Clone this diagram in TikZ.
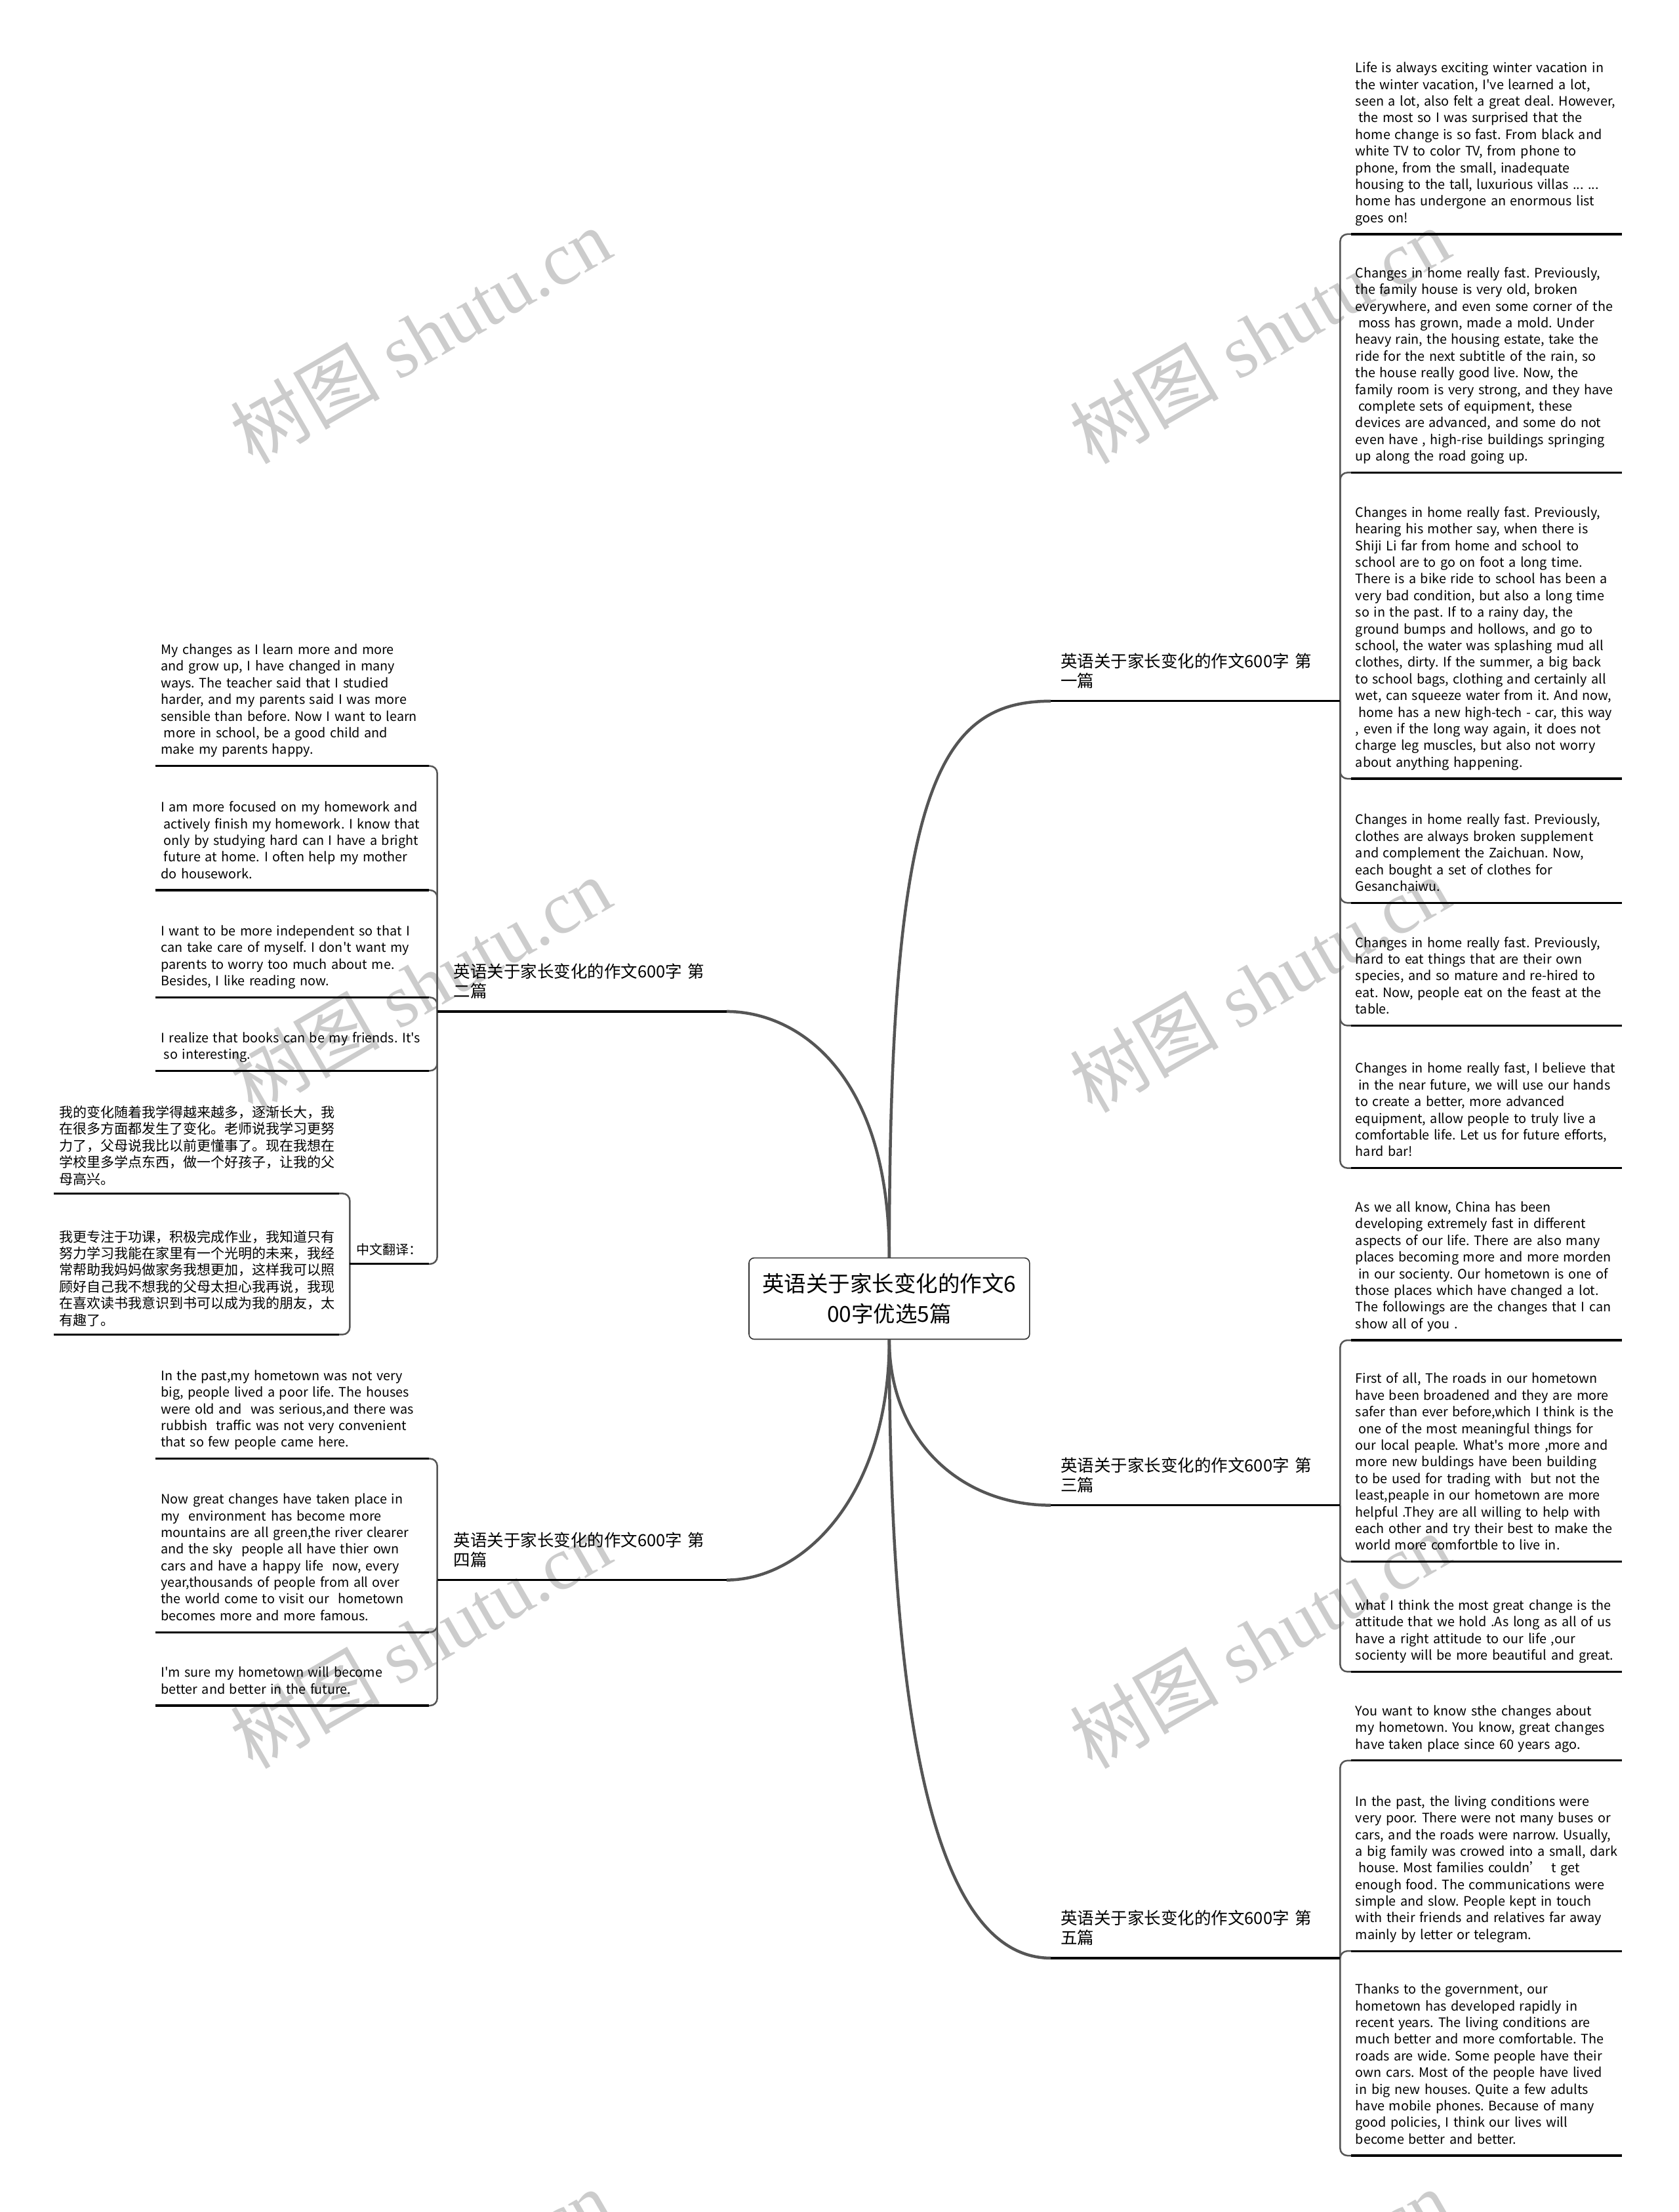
\documentclass[tikz,border=0pt]{standalone}
\usepackage{fontspec}
\setmainfont{Noto Sans CJK SC}[Ligatures=TeXOff]
\newfontfamily\wmfont{Liberation Serif}
\newfontfamily\wmcjk{Noto Sans CJK SC}
\newcommand{\lsp}{\hspace*{.22em}}
\definecolor{twiggray}{HTML}{555555}
\frenchspacing
\hyphenpenalty=10000
\exhyphenpenalty=10000

\begin{document}
\begin{tikzpicture}[x=2.1513pt, y=-2.1513pt,
    hub/.style={draw=black!80, line width=1.6pt, rounded corners=8pt, fill=white,
        minimum width=428pt, minimum height=124pt, align=center,
        font=\fontsize{33.5}{46}\selectfont},
    topic/.style={anchor=south west, inner ysep=12pt, align=left,
        font=\fontsize{25.5}{30}\selectfont, execute at end node=\strut},
    rtopic/.style={topic, inner xsep=15pt, text width=411pt},
    ltopic/.style={topic, inner xsep=25pt, text width=391pt},
    leaf/.style={anchor=south west, inner ysep=10pt, align=left,
        font=\fontsize{19.8}{25.4}\selectfont, execute at end node=\strut},
    rleaf/.style={leaf, inner xsep=6.5pt, text width=400pt},
    lleaf/.style={leaf, inner xsep=8.7pt, text width=400pt},
    zleaf/.style={leaf, inner ysep=6.5pt, inner xsep=8.6pt, text width=417.4pt,
        font=\fontsize{21}{25.4}\selectfont},
    limb/.style={draw=twiggray, line width=4.5pt},
    twig/.style={draw=twiggray, line width=2.5pt, rounded corners=11pt},
    rule/.style={draw=black, line width=3.2pt},
    wmark/.style={text=black!20, rotate=30, font=\wmfont\fontsize{114}{114}\selectfont}]
    % page
    \useasboundingbox (0,0) rectangle (1190,1568);
    % watermarks
    \begin{scope}
        \clip (0,0) rectangle (1190,1568);
        \foreach \x/\y [count=\i] in {298/238, 893/238, 298/698, 893/698, 298/1163, 893/1163, 298/1628, 893/1628}
            \node[wmark] (wm\i) at (\x,\y) {{\wmcjk 树图} shutu.cn};
    \end{scope}
    % center
    \node[hub] (hub) at (630.5,920.5) {英语关于家长变化的作文6\\00字优选5篇};
    % branches
    \node[rtopic] (b1) at (745,497) {英语关于家长变化的作文600字 第\\一篇};
    \node[ltopic] (b2) at (310,717) {英语关于家长变化的作文600字 第\\二篇};
    \node[rtopic] (b3) at (745,1067) {英语关于家长变化的作文600字 第\\三篇};
    \node[ltopic] (b4) at (310,1120) {英语关于家长变化的作文600字 第\\四篇};
    \node[rtopic] (b5) at (745,1388) {英语关于家长变化的作文600字 第\\五篇};
    % leaves of branch 1
    \node[rleaf] (l11) at (958,166) {Life is always exciting winter vacation in\\the winter vacation, I've learned a lot,\\seen a lot, also felt a great deal. However,\\\lsp the most so I was surprised that the\\home change is so fast. From black and\\white TV to color TV, from phone to\\phone, from the small, inadequate\\housing to the tall, luxurious villas ... ...\\home has undergone an enormous list\\goes on!};
    \node[rleaf] (l12) at (958,335) {Changes in home really fast. Previously,\\the family house is very old, broken\\everywhere, and even some corner of the\\\lsp moss has grown, made a mold. Under\\heavy rain, the housing estate, take the\\ride for the next subtitle of the rain, so\\the house really good live. Now, the\\family room is very strong, and they have\\\lsp complete sets of equipment, these\\devices are advanced, and some do not\\even have , high-rise buildings springing\\up along the road going up.};
    \node[rleaf] (l13) at (958,552) {Changes in home really fast. Previously,\\hearing his mother say, when there is\\Shiji Li far from home and school to\\school are to go on foot a long time.\\There is a bike ride to school has been a\\very bad condition, but also a long time\\so in the past. If to a rainy day, the\\ground bumps and hollows, and go to\\school, the water was splashing mud all\\clothes, dirty. If the summer, a big back\\to school bags, clothing and certainly all\\wet, can squeeze water from it. And now,\\\lsp home has a new high-tech - car, this way\\, even if the long way again, it does not\\charge leg muscles, but also not worry\\about anything happening.};
    \node[rleaf] (l14) at (958,640) {Changes in home really fast. Previously,\\clothes are always broken supplement\\and complement the Zaichuan. Now,\\each bought a set of clothes for\\Gesanchaiwu.};
    \node[rleaf] (l15) at (958,727) {Changes in home really fast. Previously,\\hard to eat things that are their own\\species, and so mature and re-hired to\\eat. Now, people eat on the feast at the\\table.};
    \node[rleaf] (l16) at (958,828) {Changes in home really fast, I believe that\\\lsp in the near future, we will use our hands\\to create a better, more advanced\\equipment, allow people to truly live a\\comfortable life. Let us for future efforts,\\hard bar!};
    % leaves of branch 2
    \node[lleaf] (l21) at (110,543) {My changes as I learn more and more\\and grow up, I have changed in many\\ways. The teacher said that I studied\\harder, and my parents said I was more\\sensible than before. Now I want to learn\\\lsp more in school, be a good child and\\make my parents happy.};
    \node[lleaf] (l22) at (110,631) {I am more focused on my homework and\\\lsp actively finish my homework. I know that\\\lsp only by studying hard can I have a bright\\\lsp future at home. I often help my mother\\do housework.};
    \node[lleaf] (l23) at (110,707) {I want to be more independent so that I\\can take care of myself. I don't want my\\parents to worry too much about me.\\Besides, I like reading now.};
    \node[lleaf] (l24) at (110,759) {I realize that books can be my friends. It's\\\lsp so interesting.};
    \node[leaf, inner ysep=6.5pt, inner xsep=10.4pt, text width=99.7pt, font=\fontsize{20}{25.4}\selectfont] (zh) at (248,896) {中文翻译：};
    \node[zleaf] (zh1) at (38,846) {我的变化随着我学得越来越多，逐渐长大，我\\在很多方面都发生了变化。老师说我学习更努\\力了，父母说我比以前更懂事了。现在我想在\\学校里多学点东西，做一个好孩子，让我的父\\母高兴。};
    \node[zleaf] (zh2) at (38,946) {我更专注于功课，积极完成作业，我知道只有\\努力学习我能在家里有一个光明的未来，我经\\常帮助我妈妈做家务我想更加，这样我可以照\\顾好自己我不想我的父母太担心我再说，我现\\在喜欢读书我意识到书可以成为我的朋友，太\\有趣了。};
    % leaves of branch 3
    \node[rleaf] (l31) at (958,950) {As we all know, China has been\\developing extremely fast in different\\aspects of our life. There are also many\\places becoming more and more morden\\\lsp in our socienty. Our hometown is one of\\those places which have changed a lot.\\The followings are the changes that I can\\show all of you .};
    \node[rleaf] (l32) at (958,1107) {First of all, The roads in our hometown\\have been broadened and they are more\\safer than ever before,which I think is the\\\lsp one of the most meaningful things for\\our local peaple. What's more ,more and\\more new buldings have been building\\to be used for trading with \ but not the\\least,peaple in our hometown are more\\helpful .They are all willing to help with\\each other and try their best to make the\\world more comfortble to live in.};
    \node[rleaf] (l33) at (958,1185) {what I think the most great change is the\\attitude that we hold .As long as all of us\\have a right attitude to our life ,our\\socienty will be more beautiful and great.};
    % leaves of branch 4
    \node[lleaf] (l41) at (110,1034) {In the past,my hometown was not very\\big, people lived a poor life. The houses\\were old and \ was serious,and there was\\rubbish \ traffic was not very convenient\\that so few people came here.};
    \node[lleaf] (l42) at (110,1157) {Now great changes have taken place in\\my \ environment has become more\\mountains are all green,the river clearer\\and the sky \ people all have thier own\\cars and have a happy life \ now, every\\year,thousands of people from all over\\the world come to visit our \ hometown\\becomes more and more famous.};
    \node[lleaf] (l43) at (110,1209) {I'm sure my hometown will become\\better and better in the future.};
    % leaves of branch 5
    \node[rleaf] (l51) at (958,1248) {You want to know sthe changes about\\my hometown. You know, great changes\\have taken place since 60 years ago.};
    \node[rleaf] (l52) at (958,1383) {In the past, the living conditions were\\very poor. There were not many buses or\\cars, and the roads were narrow. Usually,\\a big family was crowed into a small, dark\\\lsp house. Most families couldn’ \ t get\\enough food. The communications were\\simple and slow. People kept in touch\\with their friends and relatives far away\\mainly by letter or telegram.};
    \node[rleaf] (l53) at (958,1528) {Thanks to the government, our\\hometown has developed rapidly in\\recent years. The living conditions are\\much better and more comfortable. The\\roads are wide. Some people have their\\own cars. Most of the people have lived\\in big new houses. Quite a few adults\\have mobile phones. Because of many\\good policies, I think our lives will\\become better and better.};
    % limbs from the center
    \draw[limb] (hub.north) .. controls (630.5,560) and (665,497) .. (b1.south west);
    \draw[limb] (hub.north) .. controls (630.5,760) and (565,717) .. (b2.south east);
    \draw[limb] (hub.south) .. controls (630.5,1020) and (680,1067) .. (b3.south west);
    \draw[limb] (hub.south) .. controls (630.5,1060) and (570,1120) .. (b4.south east);
    \draw[limb] (hub.south) .. controls (630.5,1250) and (670,1388) .. (b5.south west);
    % twigs to the leaves
    \foreach \l in {l11, l12, l13, l14, l15, l16}
        \draw[twig] (b1.south east) |- (\l.south west);
    \foreach \l in {l21, l22, l23, l24, zh}
        \draw[twig] (b2.south west) |- (\l.south east);
    \foreach \l in {zh1, zh2}
        \draw[twig] (zh.south west) |- (\l.south east);
    \foreach \l in {l31, l32, l33}
        \draw[twig] (b3.south east) |- (\l.south west);
    \foreach \l in {l41, l42, l43}
        \draw[twig] (b4.south west) |- (\l.south east);
    \foreach \l in {l51, l52, l53}
        \draw[twig] (b5.south east) |- (\l.south west);
    % underlines
    \foreach \n in {b1, b2, b3, b4, b5, zh, l11, l12, l13, l14, l15, l16, l21, l22, l23, l24, zh1, zh2, l31, l32, l33, l41, l42, l43, l51, l52, l53}
        \draw[rule] (\n.south west) -- (\n.south east);
\end{tikzpicture}
\end{document}
